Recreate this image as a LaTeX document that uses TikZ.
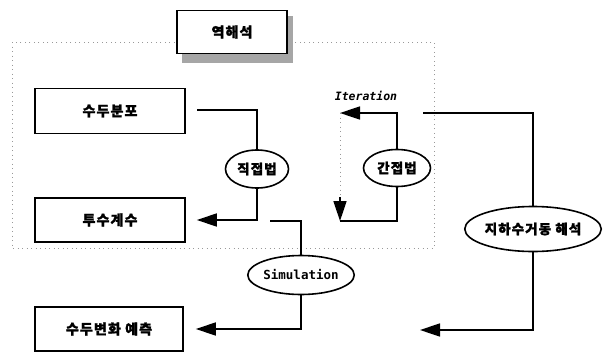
\documentclass[tikz,border=0pt]{standalone}
\usepackage{fontspec}
\newfontfamily\kr{Noto Sans CJK KR}[LetterSpace=8,BoldFeatures={FakeBold=1.5}]
\newfontfamily\monob{DejaVu Sans Mono}[BoldFont={DejaVu Sans Mono Bold},BoldItalicFont={DejaVu Sans Mono Bold Oblique}]
\usetikzlibrary{shapes.geometric,arrows.meta}
\begin{document}
\begin{tikzpicture}[x=1pt,y=-1pt,line width=1.6pt,
  box/.style={draw,rectangle,fill=white,minimum width=150pt,minimum height=45pt,inner sep=0pt,font=\kr\bfseries\fontsize{14}{16}\selectfont},
  oval/.style={draw,ellipse,fill=white,inner sep=0pt,font=\kr\bfseries\fontsize{13.5}{15}\selectfont},
  monooval/.style={oval,font=\monob\bfseries\fontsize{12.5}{14}\selectfont},
  arr/.style={-{Triangle[length=20pt,width=13pt]}},
  region/.style={line width=0.7pt,gray!80,dash pattern=on 1pt off 3.5pt},
  shadow/.style={fill=gray!70,draw=none}]
\useasboundingbox (0,0) rectangle (604,351);
% dotted region
\draw[region] (12,42) rectangle (434,248);
% top box with shadow
\fill[shadow] (182,16) rectangle (293,63);
\node[box,minimum width=110pt,minimum height=43pt] (yh) at (232,32) {역해석};
% boxes
\node[box] (sudu) at (110,111) {수두분포};
\node[box,minimum height=44pt] (tusu) at (110,220) {투수계수};
\node[box,minimum width=148pt,minimum height=44pt] (yech) at (109,329) {수두변화~예측};
% ovals
\node[oval,minimum width=63pt,minimum height=38pt] (jik) at (257,169) {직접법};
\node[oval,minimum width=67pt,minimum height=37pt] (gan) at (397,168) {간접법};
\node[monooval,minimum width=92pt,minimum height=39pt] (sim) at (301,275) {Simulation};
\node[font=\monob\bfseries\itshape\fontsize{11.5}{13}\selectfont] (it) at (366,96) {Iteration};
\node[oval,minimum width=129pt,minimum height=45pt] (jiha) at (533,229) {지하수거동~해석};
% coordinates
\coordinate (c1) at (197,110);
\coordinate (c2) at (270,221);
\coordinate (c3) at (340,113);
\coordinate (c4) at (340,197);
\coordinate (c5) at (340,221);
\coordinate (c6) at (423,113);
\coordinate (c7) at (420,330);
% connectors
\draw (c1) -| (jik.north);
\draw[arr] (jik.south) |- ([xshift=11pt]tusu.east);
\draw (c2) -| (sim.north);
\draw[arr] (sim.south) |- ([xshift=12pt]yech.east);
\draw[arr] (gan.north) |- (c3);
\draw[region] (c3) -- (c4);
\draw[arr] (c4) -- (c5);
\draw (c5) -| (gan.south);
\draw (c6) -| (jiha.north);
\draw[arr] (jiha.south) |- (c7);
\end{tikzpicture}
\end{document}
